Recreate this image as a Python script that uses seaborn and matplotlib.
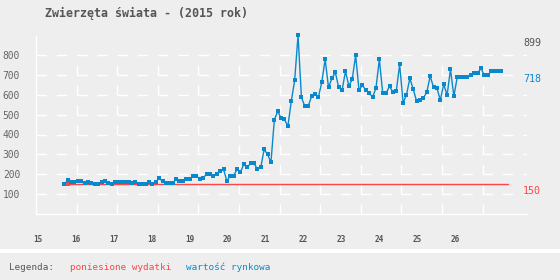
import numpy as np
import pandas as pd
import matplotlib
matplotlib.use("Agg")
import matplotlib.pyplot as plt
import matplotlib.transforms as mtransforms
from matplotlib.patches import Rectangle
import seaborn as sns

# ---------------- data ----------------
title = "Zwierzęta świata - (2015 rok)"
x_ticks = [15, 16, 17, 18, 19, 20, 21, 22, 23, 24, 25, 26]
y_ticks = [100, 200, 300, 400, 500, 600, 700, 800]

market_value = [
    149, 170, 162, 160, 164, 164, 154, 160, 157, 149,
    149, 160, 164, 157, 149, 162, 160, 160, 160, 160,
    154, 160, 149, 149, 149, 162, 149, 162, 180, 164,
    156, 156, 157, 174, 166, 166, 178, 178, 190, 190,
    178, 181, 201, 201, 190, 201, 218, 225, 166, 193,
    193, 225, 210, 251, 235, 255, 255, 226, 235, 325,
    300, 260, 473, 517, 483, 476, 441, 567, 672, 899,
    587, 542, 542, 592, 602, 587, 662, 778, 637, 682,
    713, 637, 622, 718, 645, 678, 798, 623, 648, 623,
    608, 588, 633, 778, 608, 608, 643, 613, 618, 753,
    560, 598, 683, 628, 568, 573, 583, 613, 693, 638,
    633, 573, 653, 598, 728, 593, 688, 688, 688, 688,
    698, 708, 708, 733, 698, 698, 718, 718, 718, 718,
]
market_start, market_end = 15.694, 27.224
costs = [150, 150]
costs_x = [15.80, 27.40]
max_label = "899"
last_label = "718"
cost_label = "150"
legend_items = ["poniesione wydatki", "wartość rynkowa"]

# ---------------- style ----------------
BG = "#eeeeee"
BLUE = "#0a88cc"
RED = "#ff4444"
GRAY = "#555555"
sns.set_theme(style="white")
plt.rcParams["font.family"] = ["DejaVu Sans Mono", "DejaVu Sans"]
plt.rcParams["lines.scale_dashes"] = False

fig = plt.figure(figsize=(5.6, 2.8), dpi=100, facecolor=BG)
W, H = 560, 280
left_px, right_px, top_px, bottom_px = 36, 527, 36, 214
ax = fig.add_axes([left_px / W, 1 - bottom_px / H,
                   (right_px - left_px) / W, (bottom_px - top_px) / H])
ax.set_facecolor(BG)

px_per_unit = 37.9
x0 = 15 - 2 / px_per_unit
x1 = 15 + (right_px - 38) / px_per_unit
y_top = (bottom_px - top_px) / (159 / 800)
ax.set_xlim(x0, x1)
ax.set_ylim(0, y_top)

# grid (dashed white)
gx = [x0 + k * 40.6 / px_per_unit for k in range(1, 12)]
ax.vlines(gx, 0, 800, colors="white", linewidth=1.0,
          linestyles=[(0, (7.2, 7.1))], zorder=1)
ax.hlines(y_ticks, x0, x1, colors="white", linewidth=1.0,
          linestyles=[(0, (7.5, 7.1))], zorder=1)

# data
xs = np.linspace(market_start, market_end, len(market_value))
df = pd.DataFrame({"x": xs, "y": market_value})
sns.lineplot(data=df, x="x", y="y", ax=ax, color=BLUE, linewidth=1.0,
             marker="s", markersize=2.2, markeredgewidth=0,
             markerfacecolor=BLUE, zorder=4, clip_on=False)
dfc = pd.DataFrame({"x": costs_x, "y": costs})
sns.lineplot(data=dfc, x="x", y="y", ax=ax, color=RED, linewidth=1.0,
             marker="s", markersize=2.2, markeredgewidth=0, markevery=[0],
             zorder=3, clip_on=False)

# spines
for s in ["top", "right"]:
    ax.spines[s].set_visible(False)
for s in ["left", "bottom"]:
    ax.spines[s].set_color("white")
    ax.spines[s].set_linewidth(1.0)

ax.set_xticks(x_ticks)
ax.set_xticklabels([str(t) for t in x_ticks])
ax.set_yticks(y_ticks)
ax.set_yticklabels([str(t) for t in y_ticks])
ax.tick_params(axis="x", length=0, pad=15, labelsize=5.6, labelcolor=GRAY)
ax.tick_params(axis="y", length=0, pad=11.5, labelsize=6.9, labelcolor="#666666")
for lab in ax.get_xticklabels():
    lab.set_fontweight("bold")
ax.set_xlabel("")
ax.set_ylabel("")

# right-side value labels
trans = mtransforms.blended_transform_factory(ax.transAxes, ax.transData)
for val, txt, col in [(max(market_value), max_label, GRAY),
                      (market_value[-1], last_label, BLUE),
                      (costs[0], cost_label, RED)]:
    ax.annotate(txt, xy=(0.992, val), xycoords=trans, xytext=(0, -5.2),
                textcoords="offset points", ha="left", va="center",
                fontsize=7.2, color=col, annotation_clip=False)

# title
fig.text(45 / W, 1 - 13 / H, title, ha="left", va="center",
         fontsize=8.4, fontweight="bold", color=GRAY)

# legend band
fig.add_artist(Rectangle((0, 1 - 252.5 / H), 1, 3.5 / H,
                         transform=fig.transFigure, color="white", lw=0))
fig.text(9 / W, 1 - 267.5 / H, "Legenda:", ha="left", va="center",
         fontsize=6.7, color=GRAY)
fig.text(69.5 / W, 1 - 267.5 / H, legend_items[0], ha="left", va="center",
         fontsize=6.7, color=RED)
fig.text(186.5 / W, 1 - 267.5 / H, legend_items[1], ha="left", va="center",
         fontsize=6.7, color=BLUE)

fig.savefig("out.png", dpi=100, facecolor=BG)
